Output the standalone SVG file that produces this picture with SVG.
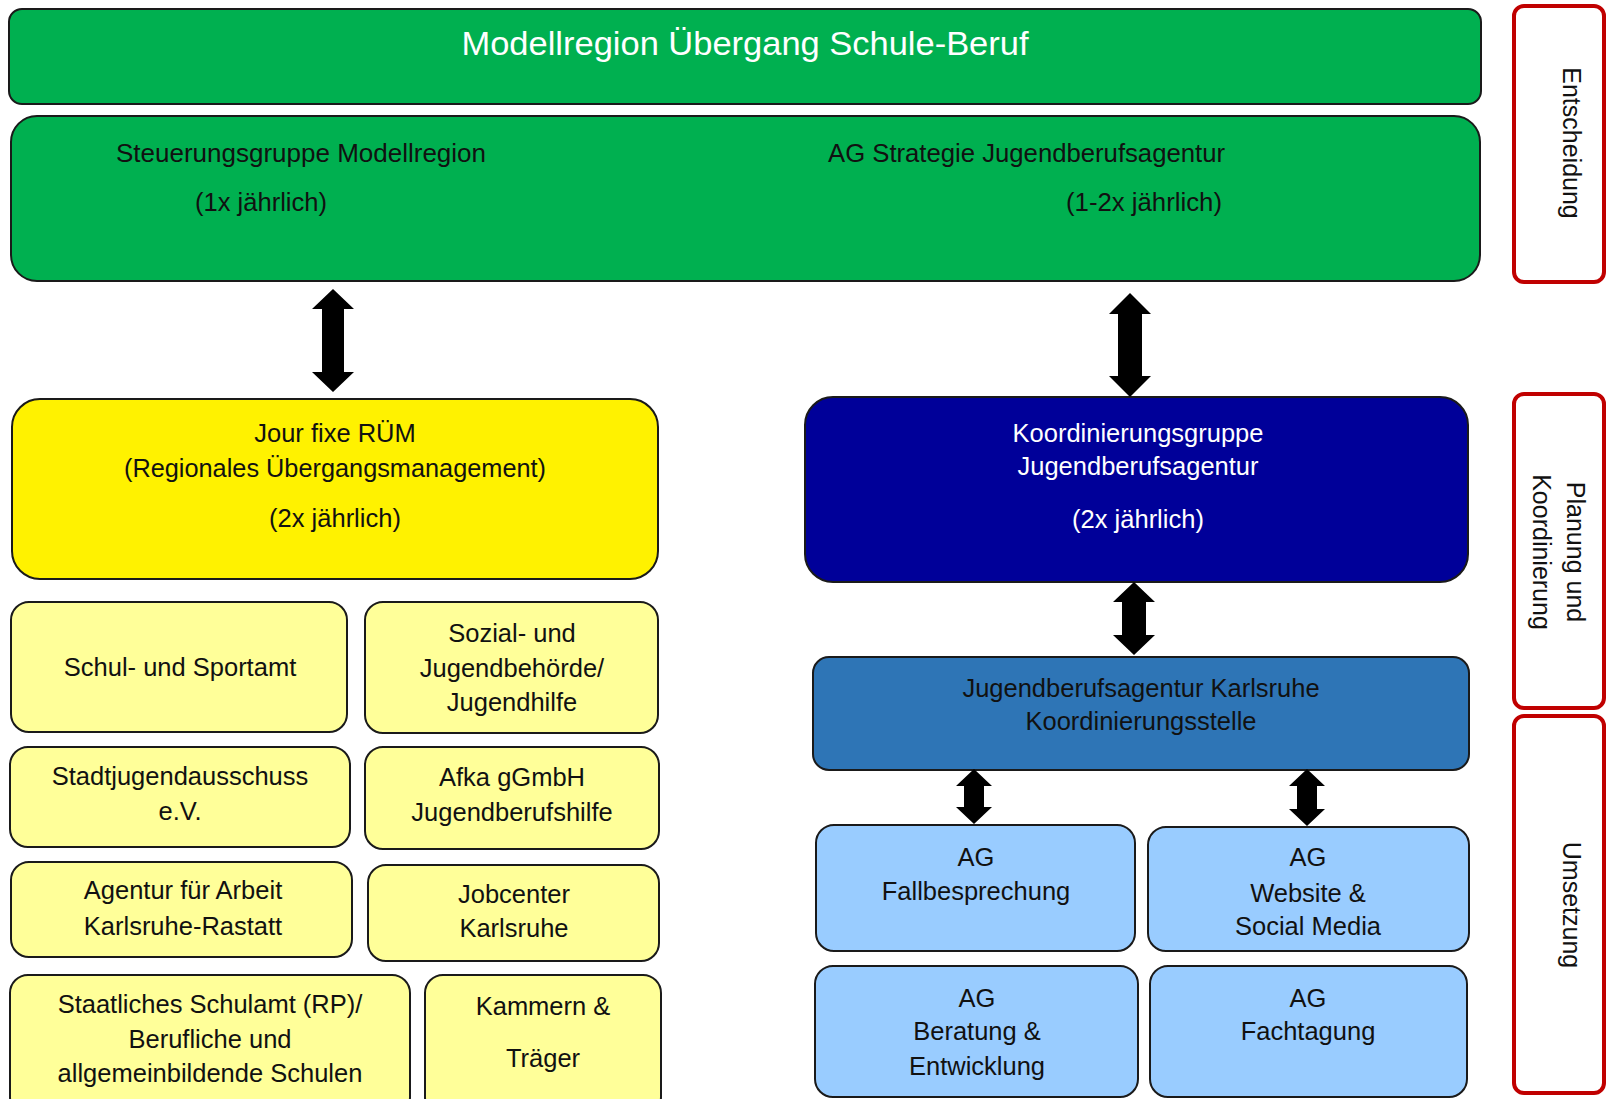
<svg xmlns="http://www.w3.org/2000/svg" width="1606" height="1099" viewBox="0 0 1606 1099">
<style>
  text { font-family: "Liberation Sans", Arial, sans-serif; font-size: 25.5px; fill: #111; text-anchor: middle; }
  .box { stroke: #1a1a1a; stroke-width: 2; }
  .green { fill: #00B050; }
  .yellow { fill: #FFF200; }
  .ly { fill: #FFFF99; }
  .navy { fill: #000099; }
  .steel { fill: #2E75B6; }
  .lb { fill: #99CCFF; }
  .side { fill: #ffffff; stroke: #C00000; stroke-width: 4; }
  .w { fill: #ffffff; }
  .start { text-anchor: start; }
  .rot { font-size: 25px; dominant-baseline: central; }
  .title { font-size: 34px; }
  .arrow { fill: #000; }
</style>
<rect width="1606" height="1099" fill="#ffffff"/>

<g id="modellregion">
  <rect class="box green" x="9" y="9" width="1472" height="95" rx="13"/>
  <text class="w title" x="745" y="55" textLength="567" lengthAdjust="spacingAndGlyphs">Modellregion Übergang Schule-Beruf</text>
</g>

<g id="steuerung">
  <rect class="box green" x="11" y="116" width="1469" height="165" rx="26"/>
  <text class="start" x="116" y="162" textLength="370" lengthAdjust="spacingAndGlyphs">Steuerungsgruppe Modellregion</text>
  <text class="start" x="195" y="211" textLength="132" lengthAdjust="spacingAndGlyphs">(1x jährlich)</text>
  <text class="start" x="828" y="162" textLength="397" lengthAdjust="spacingAndGlyphs">AG Strategie Jugendberufsagentur</text>
  <text class="start" x="1066" y="211" textLength="156" lengthAdjust="spacingAndGlyphs">(1-2x jährlich)</text>
</g>

<g id="side-entscheidung">
  <rect class="side" x="1514" y="6" width="90" height="276" rx="10"/>
  <text class="rot" transform="translate(1572,143) rotate(90)" x="0" y="0">Entscheidung</text>
</g>
<g id="side-planung">
  <rect class="side" x="1514" y="394" width="90" height="314" rx="10"/>
  <text class="rot" transform="translate(1576,552) rotate(90)" x="0" y="0">Planung und</text>
  <text class="rot" transform="translate(1542,552) rotate(90)" x="0" y="0">Koordinierung</text>
</g>
<g id="side-umsetzung">
  <rect class="side" x="1514" y="716" width="90" height="377" rx="10"/>
  <text class="rot" transform="translate(1572,905) rotate(90)" x="0" y="0">Umsetzung</text>
</g>

<g id="jourfixe">
  <rect class="box yellow" x="12" y="399" width="646" height="180" rx="28"/>
  <text x="335" y="442">Jour fixe RÜM</text>
  <text x="335" y="477" textLength="422" lengthAdjust="spacingAndGlyphs">(Regionales Übergangsmanagement)</text>
  <text x="335" y="527">(2x jährlich)</text>
</g>

<g id="koordinierungsgruppe">
  <rect class="box navy" x="805" y="397" width="663" height="185" rx="28"/>
  <text class="w" x="1138" y="442">Koordinierungsgruppe</text>
  <text class="w" x="1138" y="475">Jugendberufsagentur</text>
  <text class="w" x="1138" y="528">(2x jährlich)</text>
</g>

<g id="koordinierungsstelle">
  <rect class="box steel" x="813" y="657" width="656" height="113" rx="16"/>
  <text x="1141" y="697">Jugendberufsagentur Karlsruhe</text>
  <text x="1141" y="730">Koordinierungsstelle</text>
</g>

<g id="schulamt-sport">
  <rect class="box ly" x="11" y="602" width="336" height="130" rx="18"/>
  <text x="180" y="676">Schul- und Sportamt</text>
</g>
<g id="sozial">
  <rect class="box ly" x="365" y="602" width="293" height="131" rx="18"/>
  <text x="512" y="642">Sozial- und</text>
  <text x="512" y="677">Jugendbehörde/</text>
  <text x="512" y="711">Jugendhilfe</text>
</g>
<g id="stadtjugend">
  <rect class="box ly" x="10" y="747" width="340" height="100" rx="18"/>
  <text x="180" y="785">Stadtjugendausschuss</text>
  <text x="180" y="820">e.V.</text>
</g>
<g id="afka">
  <rect class="box ly" x="365" y="747" width="294" height="102" rx="18"/>
  <text x="512" y="786">Afka gGmbH</text>
  <text x="512" y="821">Jugendberufshilfe</text>
</g>
<g id="agentur">
  <rect class="box ly" x="11" y="862" width="341" height="95" rx="18"/>
  <text x="183" y="899">Agentur für Arbeit</text>
  <text x="183" y="935">Karlsruhe-Rastatt</text>
</g>
<g id="jobcenter">
  <rect class="box ly" x="368" y="865" width="291" height="96" rx="18"/>
  <text x="514" y="903">Jobcenter</text>
  <text x="514" y="937">Karlsruhe</text>
</g>
<g id="staatliches-schulamt">
  <rect class="box ly" x="10" y="975" width="400" height="140" rx="18"/>
  <text x="210" y="1013">Staatliches Schulamt (RP)/</text>
  <text x="210" y="1048">Berufliche und</text>
  <text x="210" y="1082">allgemeinbildende Schulen</text>
</g>
<g id="kammern">
  <rect class="box ly" x="425" y="975" width="236" height="140" rx="18"/>
  <text x="543" y="1015">Kammern &amp;</text>
  <text x="543" y="1067">Träger</text>
</g>

<g id="ag-fallbesprechung">
  <rect class="box lb" x="816" y="825" width="319" height="126" rx="18"/>
  <text x="976" y="866">AG</text>
  <text x="976" y="900">Fallbesprechung</text>
</g>
<g id="ag-website">
  <rect class="box lb" x="1148" y="827" width="321" height="124" rx="18"/>
  <text x="1308" y="866">AG</text>
  <text x="1308" y="902">Website &amp;</text>
  <text x="1308" y="935">Social Media</text>
</g>
<g id="ag-beratung">
  <rect class="box lb" x="815" y="966" width="323" height="131" rx="18"/>
  <text x="977" y="1007">AG</text>
  <text x="977" y="1040">Beratung &amp;</text>
  <text x="977" y="1075">Entwicklung</text>
</g>
<g id="ag-fachtagung">
  <rect class="box lb" x="1150" y="966" width="317" height="131" rx="18"/>
  <text x="1308" y="1007">AG</text>
  <text x="1308" y="1040">Fachtagung</text>
</g>

<g id="connectors">
  <path class="arrow" d="M333,289 L354,309 L344,309 L344,372 L354,372 L333,392 L312,372 L322,372 L322,309 L312,309 Z"/>
  <path class="arrow" d="M1130,293 L1151,314 L1142,314 L1142,376 L1151,376 L1130,397 L1109,376 L1118,376 L1118,314 L1109,314 Z"/>
  <path class="arrow" d="M1134,582 L1155,602 L1146,602 L1146,635 L1155,635 L1134,655 L1113,635 L1122,635 L1122,602 L1113,602 Z"/>
  <path class="arrow" d="M974,769 L992,786 L984,786 L984,807 L992,807 L974,824 L956,807 L964,807 L964,786 L956,786 Z"/>
  <path class="arrow" d="M1307,769 L1325,786 L1317,786 L1317,809 L1325,809 L1307,826 L1289,809 L1297,809 L1297,786 L1289,786 Z"/>
</g>
</svg>
